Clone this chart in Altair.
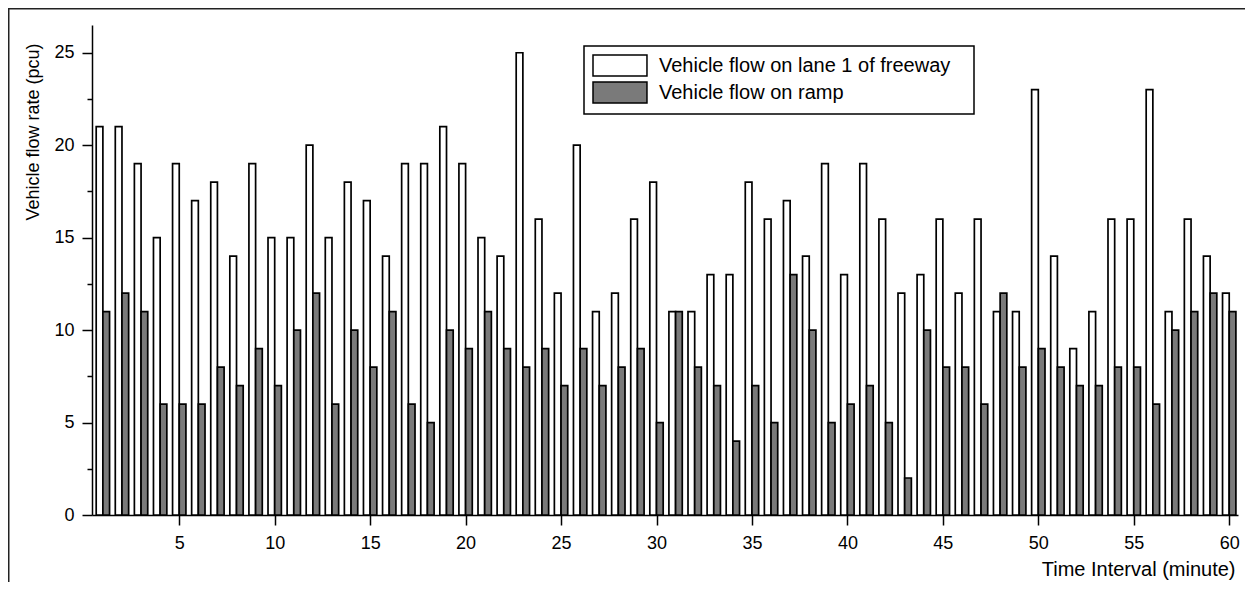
import altair as alt
import pandas as pd

FONT = "Liberation Sans"

intervals = list(range(1, 61))
freeway = [21, 21, 19, 15, 19, 17, 18, 14, 19, 15,
           15, 20, 15, 18, 17, 14, 19, 19, 21, 19,
           15, 14, 25, 16, 12, 20, 11, 12, 16, 18,
           11, 11, 13, 13, 18, 16, 17, 14, 19, 13,
           19, 16, 12, 13, 16, 12, 16, 11, 11, 23,
           14, 9, 11, 16, 16, 23, 11, 16, 14, 12]
ramp = [11, 12, 11, 6, 6, 6, 8, 7, 9, 7,
        10, 12, 6, 10, 8, 11, 6, 5, 10, 9,
        11, 9, 8, 9, 7, 9, 7, 8, 9, 5,
        11, 8, 7, 4, 7, 5, 13, 10, 5, 6,
        7, 5, 2, 10, 8, 8, 6, 12, 8, 9,
        8, 7, 7, 8, 8, 6, 10, 11, 12, 11]
series_names = ["Vehicle flow on lane 1 of freeway", "Vehicle flow on ramp"]
series_colors = ["#ffffff", "#7a7a7a"]
x_ticks = list(range(5, 61, 5))
y_ticks = [i * 2.5 for i in range(11)]

rows = []
for t, f, r in zip(intervals, freeway, ramp):
    rows.append({"t": t, "series": series_names[0], "value": f})
    rows.append({"t": t, "series": series_names[1], "value": r})
df = pd.DataFrame(rows)

BW = 0.35
S1 = series_names[0]

bars = alt.Chart(df).transform_calculate(
    x0=f"datum.series === '{S1}' ? datum.t - {BW} : datum.t",
    x1=f"datum.series === '{S1}' ? datum.t : datum.t + {BW}",
).mark_bar(stroke="black", strokeWidth=1.7, opacity=1).encode(
    x=alt.X("x0:Q",
            scale=alt.Scale(domain=[0.43, 60.46], nice=False, zero=False),
            axis=alt.Axis(values=x_ticks, format="d", title="Time Interval (minute)",
                          titleX=1143, titleY=60, titleAlign="right",
                          titleBaseline="alphabetic", titleFontSize=20, tickSize=10,
                          labelBaseline="alphabetic", labelPadding=23,
                          labelFlush=False, labelOverlap=False)),
    x2="x1:Q",
    y=alt.Y("value:Q",
            scale=alt.Scale(domain=[0, 26.5], nice=False),
            axis=alt.Axis(values=y_ticks, title="Vehicle flow rate (pcu)",
                          labelExpr="datum.value % 5 === 0 ? datum.label : ''",
                          format="d",
                          tickSize={"condition": {"test": "datum.value % 5 === 0", "value": 10}, "value": 5},
                          labelPadding=8, labelOverlap=False,
                          titleX=-59, titleY=18, titleAlign="right", titleAngle=270,
                          titleBaseline="middle")),
    y2=alt.datum(0),
    fill=alt.Fill("series:N",
                  scale=alt.Scale(domain=series_names, range=series_colors),
                  legend=alt.Legend(title=None, orient="none", legendX=492, legendY=21,
                                    direction="vertical",
                                    symbolType="M-1,-1L4.14,-1L4.14,1L-1,1Z",
                                    symbolSize=441, symbolStrokeColor="black",
                                    symbolStrokeWidth=1.5, symbolOpacity=1,
                                    labelOffset=44, rowPadding=0, padding=8,
                                    labelLimit=500,
                                    labelExpr="datum.label + '\u2800'",
                                    strokeColor="black", fillColor="white")),
)

frame_df = pd.DataFrame({"a": [0]})
top_line = alt.Chart(frame_df).mark_rule(color="#222", strokeWidth=2).encode(
    x=alt.value(-84), x2=alt.value(1153), y=alt.value(-16.5))
left_line = alt.Chart(frame_df).mark_rule(color="#222", strokeWidth=2).encode(
    x=alt.value(-83.5), y=alt.value(-17.5), y2=alt.value(560))

chart = alt.layer(bars, top_line, left_line).properties(
    width=1146, height=490,
    padding={"left": 84, "top": 17, "right": 7, "bottom": 67},
    autosize=alt.AutoSizeParams(type="none"),
).configure_view(strokeWidth=0).configure_axis(
    grid=False, domainColor="black", domainWidth=1.5, tickColor="black", tickWidth=1.5,
    labelFont=FONT, labelFontSize=18, labelColor="black",
    titleFont=FONT, titleFontSize=18, titleColor="black", titleFontWeight="normal",
).configure_legend(
    labelFont=FONT, labelFontSize=20, labelColor="black", strokeWidth=1.5,
)

chart.save("out.html", embed_options={"renderer": "svg", "actions": False})
